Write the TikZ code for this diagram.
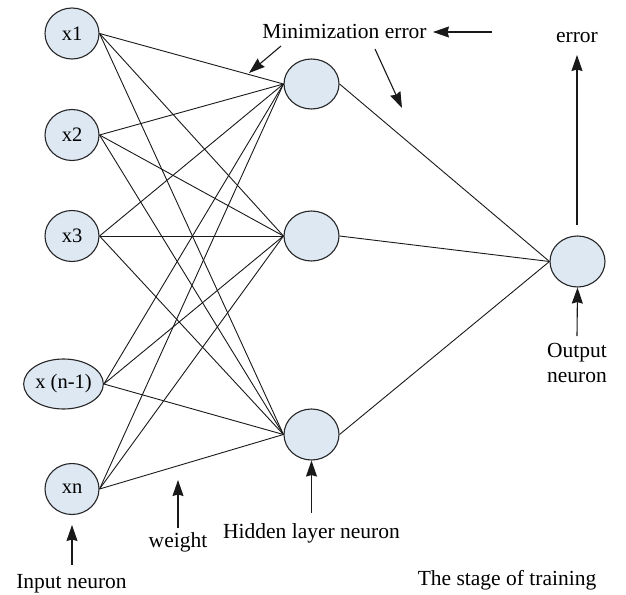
\documentclass[tikz,border=0pt]{standalone}
\usepackage{fontspec}
\setmainfont{Liberation Serif}
\usetikzlibrary{arrows.meta,shapes.geometric}
\begin{document}
\begin{tikzpicture}[x=1pt,y=-1pt,
  neuron/.style={ellipse,draw=black!85,line width=1.1pt,fill=nodefill,inner sep=0pt,
    minimum width=54pt,minimum height=51pt,font=\fontsize{20.5}{24}\selectfont},
  link/.style={draw=black!90,line width=0.9pt},
  pointer/.style={draw=black!90,line width=1.1pt,-{Stealth[length=16pt,width=11pt,inset=1.5pt]}},
  label/.style={font=\fontsize{21.5}{26}\selectfont,inner sep=0pt,anchor=base}]
\definecolor{nodefill}{RGB}{221,232,243}
\useasboundingbox (0,0) rectangle (626,594);

% input layer
\node[neuron] (x1) at (72,33.5) {x1};
\node[neuron] (x2) at (72,135) {x2};
\node[neuron] (x3) at (72,236) {x3};
\node[neuron,minimum width=71pt,minimum height=50pt] (xn1) at (63.5,384) {x (n-1)};
\node[neuron] (xn) at (72,489) {xn};

% hidden layer
\node[neuron,minimum width=55pt,minimum height=50pt] (h1) at (311.5,84) {};
\node[neuron,minimum width=55pt,minimum height=50pt] (h2) at (311.5,236) {};
\node[neuron,minimum width=55pt,minimum height=51pt] (h3) at (311.5,434.5) {};

% output layer
\node[neuron,minimum width=55pt,minimum height=51pt] (out) at (577.5,261.5) {};

% weighted connections
\foreach \i in {x1,x2,x3,xn1,xn}
  \foreach \h in {h1,h2,h3}
    \draw[link] (\i.east) -- (\h.west);
\foreach \h in {h1,h2,h3}
  \draw[link] (\h.east) -- (out.west);

% annotations
\node[label] (minerr) at (344.5,38) {Minimization error};
\node[label] (errlbl) at (577,43) {error};
\node[label] (outlbl) at (577,357) {Output};
\node[label] (outlbl2) at (577,382) {neuron};
\node[label] (hidlbl) at (311.5,538) {Hidden layer neuron};
\node[label] (wlbl) at (178,547) {weight};
\node[label] (inlbl) at (71.5,588) {Input neuron};
\node[label] (stage) at (507,585) {The stage of training};

\coordinate (ma0) at (281,46);   \coordinate (ma1) at (249,73);
\coordinate (mb0) at (375,49);   \coordinate (mb1) at (402,108);
\coordinate (mc0) at (492,32);   \coordinate (mc1) at (433,32);
\coordinate (e0) at (577,225);   \coordinate (e1) at (577,55);
\coordinate (o0) at (577,336);
\coordinate (w0) at (178,528);   \coordinate (w1) at (178,480);
\coordinate (hd0) at (311.5,513);
\coordinate (in0) at (72,565);   \coordinate (in1) at (72,525);

\draw[pointer] (ma0) -- (ma1);
\draw[pointer] (mb0) -- (mb1);
\draw[pointer] (mc0) -- (mc1);
\draw[pointer] (e0) -- (e1);
\draw[pointer] (o0) -- (out.south);
\draw[pointer] (w0) -- (w1);
\draw[pointer] (hd0) -- (h3.south);
\draw[pointer] (in0) -- (in1);
\end{tikzpicture}
\end{document}
